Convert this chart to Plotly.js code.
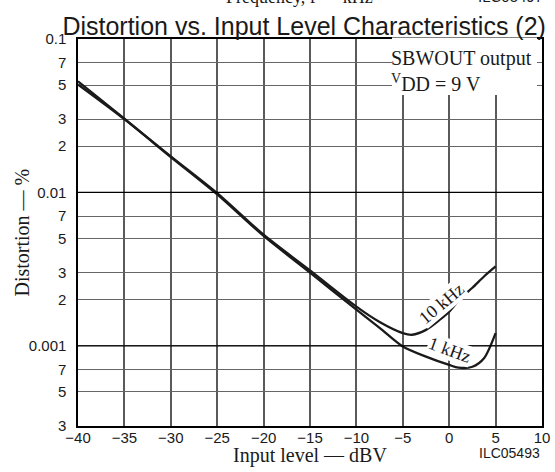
<!DOCTYPE html>
<html>
<head>
<meta charset="utf-8">
<script src="https://cdn.plot.ly/plotly-3.0.1.min.js"></script>
<style>html,body{margin:0;padding:0;background:#fff}#chart{width:555px;height:472px}</style>
</head>
<body>
<div id="chart"></div>
<script>
// Input level (dBV) and distortion (%)
const inputLevel1k = [-40, -35, -30, -25, -20, -15, -10, -7.5, -5, -2.5, 0, 1, 2.5, 3.75, 5];
const distortion1k = [0.0505, 0.0300, 0.0170, 0.0097, 0.0052, 0.0030, 0.00172, 0.00131, 0.00099, 0.00085, 0.00075, 0.00072, 0.00073, 0.00083, 0.00121];

const inputLevel10k = [-40, -35, -30, -25, -20, -15, -10, -7.5, -5, -4, -2.5, -1, 0, 1.25, 2.5, 3.75, 5];
const distortion10k = [0.0530, 0.0302, 0.0172, 0.0099, 0.0053, 0.0031, 0.00180, 0.00143, 0.00121, 0.00118, 0.00127, 0.00148, 0.00167, 0.00205, 0.00239, 0.00283, 0.00329];

const xTickVals = [-40, -35, -30, -25, -20, -15, -10, -5, 0, 5, 10];
const xTickText = ["\u221240", "\u221235", "\u221230", "\u221225", "\u221220", "\u221215", "\u221210", "\u22125", "0", "5", "10"];

const yTickVals = [3e-4, 5e-4, 7e-4, 1e-3, 2e-3, 3e-3, 5e-3, 7e-3, 1e-2, 2e-2, 3e-2, 5e-2, 7e-2, 1e-1];
const yTickText = ["3", "5", "7", "0.001", "2", "3", "5", "7", "0.01", "2", "3", "5", "7", "0.1"];
const decadeLines = [1e-3, 1e-2];
const yMin = 3e-4, yMax = 0.1;

const serif = "Liberation Serif, Times New Roman, serif";
const sans = "Liberation Sans, Arial, sans-serif";
const ink = "#1a1a1a";

const lineStyle = {color: ink, width: 2.3, shape: "spline", smoothing: 0.8};

const traces = [
  {x: inputLevel1k, y: distortion1k, mode: "lines", line: lineStyle, name: "1 kHz", hoverinfo: "x+y"},
  {x: inputLevel10k, y: distortion10k, mode: "lines", line: lineStyle, name: "10 kHz", hoverinfo: "x+y"}
];

// darker decade grid lines
const shapes = decadeLines.map(v => ({
  type: "line", xref: "paper", x0: 0, x1: 1, yref: "y", y0: v, y1: v,
  line: {color: "#000", width: 1.3}, layer: "above"
}));
// white box behind the condition note (covers grid and top border like the reference)
shapes.push({type: "rect", xref: "paper", yref: "paper", x0: 0.6767, x1: 0.9892, y0: 0.8553, y1: 1.004,
  fillcolor: "#fff", line: {width: 0}, layer: "above"});

const layout = {
  width: 555, height: 472,
  margin: {l: 78, r: 13, t: 39, b: 46},
  paper_bgcolor: "#fff", plot_bgcolor: "#fff",
  showlegend: false,
  title: {text: "Distortion vs. Input Level Characteristics (2)", font: {family: sans, size: 25, color: ink},
          x: 0.548, xref: "container", xanchor: "center", y: 0.944, yref: "container", yanchor: "middle"},
  xaxis: {
    range: [-40, 10], tickvals: xTickVals, ticktext: xTickText, tickmode: "array",
    showgrid: true, gridcolor: "#5a5a5a", gridwidth: 2, zeroline: false,
    showline: true, linecolor: "#000", linewidth: 1.6, mirror: true,
    ticks: "", ticklabelstandoff: -3, tickfont: {family: sans, size: 15, color: ink}
  },
  yaxis: {
    type: "log", range: [Math.log10(yMin), Math.log10(yMax)], tickvals: yTickVals, ticktext: yTickText, tickmode: "array",
    showgrid: true, gridcolor: "#666", gridwidth: 1, zeroline: false,
    showline: true, linecolor: "#000", linewidth: 1.6, mirror: true,
    ticks: "", ticklabelstandoff: 7, tickfont: {family: sans, size: 15, color: ink}
  },
  shapes: shapes,
  annotations: [
    {text: "Input level \u2014 dBV", xref: "paper", yref: "paper", x: 0.5, y: -0.0413,
     xanchor: "center", yanchor: "top", showarrow: false, font: {family: serif, size: 20, color: ink}},
    {text: "Distortion \u2014 %", xref: "paper", yref: "paper", x: -0.1207, y: 0.5, textangle: -90,
     xanchor: "center", yanchor: "middle", showarrow: false, font: {family: serif, size: 20, color: ink}},
    {text: "SBWOUT output<br><sup>V</sup>DD = 9 V", xref: "paper", yref: "paper", x: 0.6704, y: 0.985,
     xanchor: "left", yanchor: "top", align: "left", showarrow: false,
     font: {family: serif, size: 20, color: ink}},
    {text: "10 kHz", xref: "x", yref: "y", x: -0.78, y: -2.72, textangle: -40, showarrow: false,
     bgcolor: "#fff", borderpad: 0, font: {family: serif, size: 18, color: ink}},
    {text: "1 kHz", xref: "x", yref: "y", x: 0.1, y: -3.026, textangle: 20, showarrow: false,
     bgcolor: "#fff", borderpad: 0, font: {family: serif, size: 18, color: ink}},
    {text: "ILC05493", xref: "paper", yref: "paper", x: 1, y: -0.07, xanchor: "right", yanchor: "middle",
     showarrow: false, font: {family: sans, size: 14, color: ink}},
    {text: "Frequency, f \u2014 kHz", xref: "paper", yref: "paper", x: 0.478, y: 1, xanchor: "center", yanchor: "bottom",
     yshift: 30, showarrow: false, font: {family: serif, size: 18, color: ink}},
    {text: "ILC05497", xref: "paper", yref: "paper", x: 1.006, y: 1, xanchor: "right", yanchor: "bottom",
     yshift: 32, showarrow: false, font: {family: sans, size: 15, color: ink}}
  ]
};

Plotly.newPlot("chart", traces, layout, {displayModeBar: false, staticPlot: true});
</script>
</body>
</html>
